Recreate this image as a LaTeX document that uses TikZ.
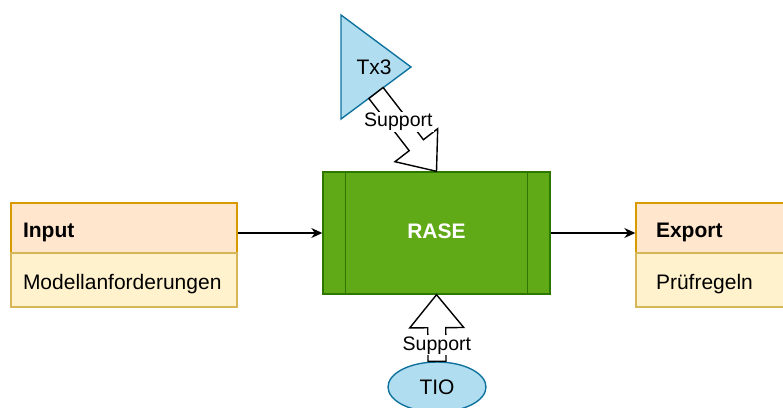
\documentclass[tikz,border=0pt]{standalone}
\usepackage{fontspec}
\setmainfont{Liberation Sans}
\usetikzlibrary{positioning,arrows.meta,calc,shapes.geometric}

\definecolor{headfill}{HTML}{FFE6CC}
\definecolor{headline}{HTML}{D79B00}
\definecolor{itemfill}{HTML}{FFF2CC}
\definecolor{itemline}{HTML}{D6B656}
\definecolor{procfill}{HTML}{60A917}
\definecolor{procline}{HTML}{2D7600}
\definecolor{toolfill}{HTML}{B1DDF0}
\definecolor{toolline}{HTML}{10739E}

\newcommand\vfont{\fontsize{21pt}{24pt}\selectfont}
\newcommand\efont{\fontsize{19.5pt}{22pt}\selectfont}

\tikzset{
  listhead/.style={draw=headline, fill=headfill, line width=1.4pt, minimum width=226pt,
    minimum height=50pt, inner xsep=12pt, text width=202pt, align=left,
    text height=21pt, text depth=2pt, font=\vfont\bfseries},
  listitem/.style={draw=itemline, fill=itemfill, line width=1.4pt, minimum width=226pt,
    minimum height=54pt, inner xsep=12pt, text width=202pt, align=left,
    text height=21.5pt, text depth=2pt, font=\vfont},
  process/.style={draw=procline, fill=procfill, line width=1.4pt, minimum width=227pt,
    minimum height=122pt, text=white, font=\vfont\bfseries},
  procbar/.style={draw=procline, line width=1.4pt},
  tool/.style={draw=toolline, fill=toolfill, line width=1.4pt, font=\vfont},
  flow/.style={->, line width=1.4pt},
  flexarrow/.style={draw=black, fill=white, line width=1.4pt},
  supportlabel/.style={fill=white, inner sep=1pt, font=\efont}
}

% hollow wide arrow from #1 (tail) to #2 (tip), label at pos #3 named #4
\newcommand\supportarrow[4]{%
  \coordinate (hb) at ($(#2)!33pt!(#1)$);
  \draw[flexarrow] ($(#1)!9pt!90:(#2)$) -- ($(hb)!9pt!90:(#2)$)
    -- ($(hb)!27pt!90:(#2)$) -- (#2) -- ($(hb)!27pt!-90:(#2)$)
    -- ($(hb)!9pt!-90:(#2)$) -- ($(#1)!9pt!-90:(#2)$) -- cycle;
  \path (#1) -- (#2) node[supportlabel, pos=#3] (#4) {Support};
}

\begin{document}
\begin{tikzpicture}[x=1pt,y=-1pt,>={Stealth[length=11pt,width=10pt]}]
\useasboundingbox (0,0) rectangle (783,407);
\clip (0,0) rectangle (783,407);
% input list
\node[listhead] (inhead) at (124,228) {Input};
\node[listitem] (initem) at (124,280) {Modellanforderungen};
% export list
\node[listhead, inner xsep=20pt, text width=186pt] (exhead) at (749,228) {Export};
\node[listitem, inner xsep=20pt, text width=186pt] (exitem) at (749,280) {Prüfregeln};
% process
\node[process] (rase) at (436.5,233) {};
\node[text=white, font=\vfont\bfseries] (rasetext) at (436.5,231) {RASE};
\draw[procbar] ($(rase.north west)+(23,0)$) -- ($(rase.south west)+(23,0)$);
\draw[procbar] ($(rase.north east)+(-23,0)$) -- ($(rase.south east)+(-23,0)$);
% tools
\coordinate (txtop) at (341,15);
\coordinate (txbot) at (341,119);
\coordinate (txtip) at (411,67);
\draw[tool] (txtop) -- (txtip) -- (txbot) -- cycle;
\node[font=\vfont] (tx3) at (374,67) {Tx3};
\coordinate (txfoot) at ($(txbot)!0.5!(txtip)$);
\node[tool, ellipse, minimum width=98pt, minimum height=50pt, inner sep=0pt] (tio) at (437,387) {TIO};
% connectors
\draw[flow] (inhead.east |- rase.west) -- (rase.west);
\draw[flow] (rase.east) -- (exhead.west |- rase.east);
\supportarrow{txfoot}{rase.north}{0.37}{toplabel}
\supportarrow{tio.north}{rase.south}{0.24}{botlabel}
\end{tikzpicture}
\end{document}
